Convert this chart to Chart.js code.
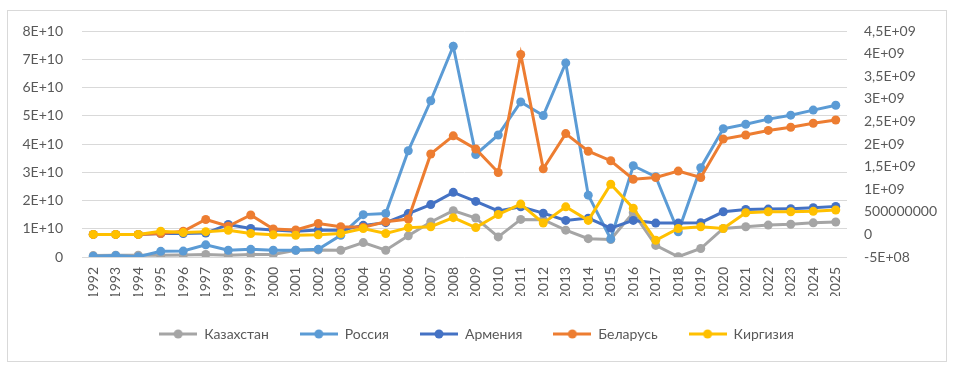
<!DOCTYPE html>
<html>
<head>
<meta charset="utf-8">
<script src="https://cdn.jsdelivr.net/npm/chart.js@4.4.1/dist/chart.umd.min.js"></script>
<style>
    html, body { margin: 0; padding: 0; background: #fff; }
    #wrap { position: relative; width: 953px; height: 369px; }
</style>
</head>
<body>
<div id="wrap"><canvas id="chart" width="953" height="369"></canvas></div>
<script>
// years on the category axis
const years = [
    '1992', '1993', '1994', '1995', '1996', '1997', '1998', '1999', '2000', '2001',
    '2002', '2003', '2004', '2005', '2006', '2007', '2008', '2009', '2010', '2011',
    '2012', '2013', '2014', '2015', '2016', '2017', '2018', '2019', '2020', '2021',
    '2022', '2023', '2024', '2025'
];

// values in billions (1E+09), left axis
const kazakhstan = [0.5, 0.6, 0.6, 0.6, 0.7, 0.9, 0.6, 0.9, 0.9, 2.4,
    2.5, 2.4, 5.1, 2.4, 7.5, 12.4, 16.4, 13.8, 7.1, 13.3,
    13.2, 9.5, 6.5, 6.2, 15.7, 4.1, 0.1, 3.0, 10.1, 10.7,
    11.3, 11.6, 12.1, 12.4];
const russia = [0.3, 0.5, 0.1, 2.0, 2.1, 4.3, 2.4, 2.7, 2.4, 2.4,
    2.7, 7.7, 15.0, 15.4, 37.6, 55.3, 74.6, 36.3, 43.2, 54.9,
    50.1, 68.7, 21.9, 6.4, 32.3, 28.4, 8.9, 31.6, 45.4, 47.0,
    48.8, 50.2, 52.0, 53.7];

// values in billions (1E+09), right axis
const armenia = [0.0, 0.0, 0.0, 0.02, 0.02, 0.03, 0.22, 0.13, 0.1, 0.07,
    0.1, 0.09, 0.2, 0.26, 0.46, 0.66, 0.93, 0.73, 0.52, 0.61,
    0.47, 0.31, 0.36, 0.14, 0.31, 0.25, 0.25, 0.26, 0.5, 0.55,
    0.56, 0.57, 0.59, 0.62];
const belarus = [0.0, 0.0, 0.0, 0.02, 0.07, 0.33, 0.18, 0.43, 0.12, 0.1,
    0.24, 0.17, 0.16, 0.28, 0.34, 1.78, 2.18, 1.89, 1.37, 3.98,
    1.45, 2.23, 1.84, 1.63, 1.22, 1.26, 1.4, 1.26, 2.11, 2.2,
    2.3, 2.37, 2.46, 2.53];
const kyrgyzstan = [0.0, 0.0, 0.0, 0.07, 0.04, 0.06, 0.09, 0.02, -0.01, -0.02,
    -0.01, 0.02, 0.13, 0.02, 0.15, 0.17, 0.37, 0.15, 0.44, 0.67,
    0.25, 0.61, 0.31, 1.11, 0.58, -0.13, 0.13, 0.17, 0.13, 0.48,
    0.5, 0.5, 0.51, 0.54];

const seriesNames = ['Казахстан', 'Россия', 'Армения', 'Беларусь', 'Киргизия'];
const seriesColors = ['#A5A5A5', '#5B9BD5', '#4472C4', '#ED7D31', '#FFC000'];

const textColor = '#595959';
const fontFamily = 'Lato, "Liberation Sans", sans-serif';

// Excel "General" style number labels, e.g. 4,5E+09
function excelLabel(billions) {
    const v = Math.round(billions * 1e9);
    if (v === 0) return '0';
    if (v === 500000000) return '500000000';
    let e = Math.floor(Math.log10(Math.abs(v)));
    let m = Math.round(v / Math.pow(10, e) * 10) / 10;
    if (Math.abs(m) >= 10) { m = m / 10; e += 1; }
    return String(m).replace('.', ',') + 'E+' + String(e).padStart(2, '0');
}

// legend swatch: line with a marker in the middle
function legendSwatch(color) {
    const c = document.createElement('canvas');
    c.width = 38;
    c.height = 12;
    const ctx = c.getContext('2d');
    ctx.strokeStyle = color;
    ctx.lineWidth = 3;
    ctx.beginPath();
    ctx.moveTo(0, 6);
    ctx.lineTo(38, 6);
    ctx.stroke();
    ctx.fillStyle = color;
    ctx.beginPath();
    ctx.arc(19, 6, 4.5, 0, Math.PI * 2);
    ctx.fill();
    return c;
}

function makeDataset(i, data, axis) {
    return {
        label: seriesNames[i],
        data: data,
        yAxisID: axis,
        borderColor: seriesColors[i],
        backgroundColor: seriesColors[i],
        pointBackgroundColor: seriesColors[i],
        pointBorderColor: seriesColors[i],
        borderWidth: 3,
        pointRadius: 4.5,
        pointBorderWidth: 0,
        tension: 0,
        fill: false,
        order: 5 - i
    };
}

const frame = {
    id: 'frame',
    beforeDraw(chart) {
        const ctx = chart.ctx;
        ctx.save();
        ctx.fillStyle = '#fff';
        ctx.fillRect(0, 0, chart.width, chart.height);
        ctx.strokeStyle = '#D9D9D9';
        ctx.lineWidth = 1;
        ctx.strokeRect(7.5, 10.5, 939, 351);
        ctx.restore();
    }
};

const chart = new Chart('chart', {
    type: 'line',
    data: {
        labels: years,
        datasets: [
            makeDataset(0, kazakhstan, 'y'),
            makeDataset(1, russia, 'y'),
            makeDataset(2, armenia, 'y1'),
            makeDataset(3, belarus, 'y1'),
            makeDataset(4, kyrgyzstan, 'y1')
        ]
    },
    options: {
        responsive: false,
        animation: false,
        layout: {
            padding: { top: 31, left: 0, right: 0, bottom: 18 }
        },
        plugins: {
            tooltip: { enabled: false },
            legend: {
                position: 'bottom',
                labels: {
                    usePointStyle: true,
                    pointStyleWidth: 38,
                    padding: 31,
                    color: textColor,
                    font: { family: fontFamily, size: 14 },
                    sort: (a, b) => a.datasetIndex - b.datasetIndex,
                    generateLabels: function(chart) {
                        const items = Chart.defaults.plugins.legend.labels.generateLabels(chart);
                        items.forEach(item => {
                            item.pointStyle = legendSwatch(seriesColors[item.datasetIndex]);
                        });
                        return items;
                    }
                }
            }
        },
        scales: {
            x: {
                offset: true,
                grid: { display: false, drawTicks: false },
                border: { display: false },
                ticks: {
                    color: textColor,
                    font: { family: fontFamily, size: 14 },
                    minRotation: 90,
                    maxRotation: 90,
                    autoSkip: false,
                    padding: 10
                },
                afterFit: scale => { scale.height = 39; }
            },
            y: {
                position: 'left',
                min: 0,
                max: 80,
                grid: { color: '#D9D9D9', drawTicks: false },
                border: { display: false },
                ticks: {
                    stepSize: 10,
                    color: textColor,
                    font: { family: fontFamily, size: 14 },
                    padding: 19,
                    callback: v => excelLabel(v)
                },
                afterFit: scale => { scale.width = 82; }
            },
            y1: {
                position: 'right',
                min: -0.5,
                max: 4.5,
                grid: { display: false, drawTicks: false },
                border: { display: false },
                ticks: {
                    stepSize: 0.5,
                    color: textColor,
                    font: { family: fontFamily, size: 14 },
                    padding: 17,
                    callback: v => excelLabel(v)
                },
                afterFit: scale => { scale.width = 106; }
            }
        }
    },
    plugins: [frame]
});
</script>
</body>
</html>
